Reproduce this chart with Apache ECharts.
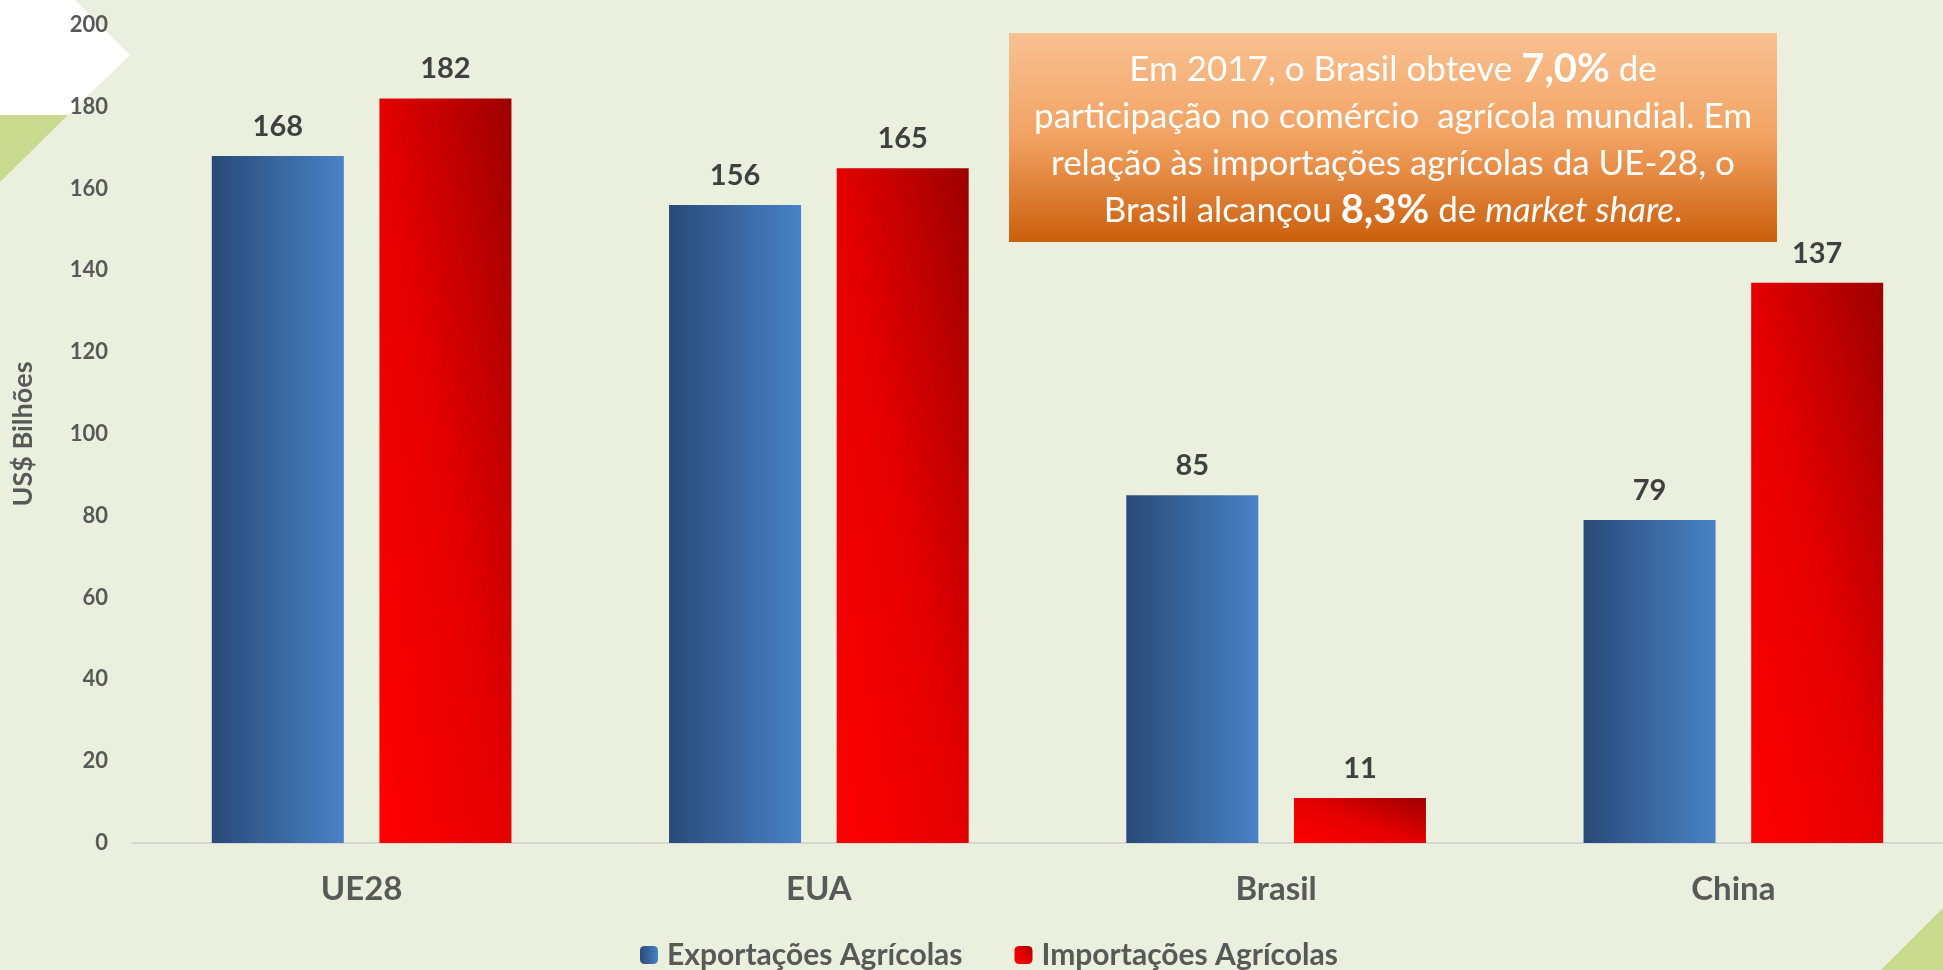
<!DOCTYPE html>
<html lang="pt">

<head>
    <meta charset="UTF-8">
    <title>Comércio agrícola 2017</title>
    <style>
        html, body { margin: 0; padding: 0; background: #EBEFDE; overflow: hidden; }
        /* the plot runs past the right edge of the picture, as in the original slide */
        #main { width: 1962px; height: 970px; }
    </style>
</head>

<body>
    <div id="main"></div>
    <script src="https://cdn.jsdelivr.net/npm/echarts@6/dist/echarts.min.js"></script>
    <script>
    var categories = ['UE28', 'EUA', 'Brasil', 'China'];
    var exportacoes = [168, 156, 85, 79];
    var importacoes = [182, 165, 11, 137];
    var seriesNames = ['Exportações Agrícolas', 'Importações Agrícolas'];

    var BAR_W = 132;
    var PX_PER_UNIT = 818 / 200;

    // diagonal gradient stretched to the bar box (bottom-left light -> top-right dark)
    function redFill(v) {
        var w = BAR_W, h = Math.max(v * PX_PER_UNIT, 1);
        var L2 = w * w + h * h;
        return new echarts.graphic.LinearGradient(0, 1, 2 * h * h / L2, 1 - 2 * w * w / L2, [
            { offset: 0, color: '#FF0000' },
            { offset: 0.5, color: '#E40000' },
            { offset: 1, color: '#9C0000' }
        ]);
    }

    var blueFill = new echarts.graphic.LinearGradient(0, 0, 1, 0, [
        { offset: 0, color: '#294A78' },
        { offset: 1, color: '#4882C6' }
    ]);

    var myChart = echarts.init(document.getElementById('main'));

    var labelStyle = {
        show: true,
        position: 'top',
        distance: 15,
        fontSize: 29,
        fontWeight: 'bold',
        color: '#404040'
    };

    var option = {
        backgroundColor: '#EBEFDE',
        textStyle: { fontFamily: 'Lato' },
        grid: {
            left: 133,
            right: 0,
            top: 25,
            bottom: 127
        },
        legend: {
            data: seriesNames,
            left: 640,
            top: 940,
            padding: 0,
            itemWidth: 18,
            itemHeight: 18,
            itemGap: 52,
            textStyle: {
                fontSize: 30,
                fontWeight: 'bold',
                color: '#595959',
                padding: [0, 0, 0, 4]
            }
        },
        xAxis: {
            type: 'category',
            data: categories,
            axisLine: { lineStyle: { color: '#D6D6D6', width: 2 } },
            axisTick: { show: false },
            axisLabel: {
                margin: 30,
                fontSize: 33,
                fontWeight: 'bold',
                color: '#595959'
            }
        },
        yAxis: {
            type: 'value',
            min: 0,
            max: 200,
            interval: 20,
            name: 'US$ Bilhões',
            nameLocation: 'middle',
            nameRotate: 90,
            nameGap: 96,
            nameTextStyle: {
                fontSize: 27,
                fontWeight: 'bold',
                color: '#595959'
            },
            axisLine: { show: false },
            axisTick: { show: false },
            splitLine: { show: false },
            axisLabel: {
                margin: 25,
                fontSize: 22,
                fontWeight: 'bold',
                color: '#595959'
            }
        },
        graphic: [
            {
                type: 'polygon',
                z: 0,
                shape: { points: [[0, 0], [75, 0], [130, 55], [68, 115], [0, 115]] },
                style: { fill: '#FFFFFF' }
            },
            {
                type: 'polygon',
                z: 0,
                shape: { points: [[0, 115], [68, 115], [0, 182]] },
                style: { fill: '#C9DA8E' }
            },
            {
                type: 'polygon',
                z: 0,
                shape: { points: [[1943, 908], [1943, 970], [1881, 970]] },
                style: { fill: '#C9DA8E' }
            },
            {
                type: 'rect',
                z: 10,
                shape: { x: 1009, y: 33, width: 768, height: 209 },
                style: {
                    fill: new echarts.graphic.LinearGradient(0, 0, 0, 1, [
                        { offset: 0, color: '#F9C192' },
                        { offset: 0.5, color: '#F2A262' },
                        { offset: 1, color: '#CB5F0C' }
                    ])
                }
            },
            {
                type: 'text',
                z: 11,
                x: 1393,
                y: 140,
                style: {
                    text: '{n|Em 2017, o Brasil obteve }{b|7,0%}{n| de}\n' +
                        '{n|participação no comércio  agrícola mundial. Em}\n' +
                        '{n|relação às importações agrícolas da UE-28, o}\n' +
                        '{n|Brasil alcançou }{b|8,3%}{n| de }{i|market share}{n|.}',
                    align: 'center',
                    verticalAlign: 'middle',
                    fill: '#FFFFFF',
                    rich: {
                        n: { fontFamily: 'Lato', fontSize: 35, lineHeight: 47, color: '#FFFFFF', align: 'center' },
                        b: { fontFamily: 'Lato', fontSize: 40, fontWeight: 'bold', lineHeight: 47, color: '#FFFFFF', align: 'center' },
                        i: { fontFamily: 'Lato', fontSize: 35, fontStyle: 'italic', lineHeight: 47, color: '#FFFFFF', align: 'center' }
                    }
                }
            }
        ],
        series: [
            {
                name: seriesNames[0],
                type: 'bar',
                barWidth: BAR_W,
                barGap: '27%',
                data: exportacoes,
                itemStyle: { color: blueFill },
                label: labelStyle
            },
            {
                name: seriesNames[1],
                type: 'bar',
                barWidth: BAR_W,
                barGap: '27%',
                data: importacoes.map(function(v) {
                    return { value: v, itemStyle: { color: redFill(v) } };
                }),
                itemStyle: {
                    color: new echarts.graphic.LinearGradient(0, 1, 1, 0, [
                        { offset: 0, color: '#FF0000' },
                        { offset: 0.5, color: '#E40000' },
                        { offset: 1, color: '#9C0000' }
                    ])
                },
                label: labelStyle
            }
        ]
    };

    myChart.setOption(option);
    </script>
</body>

</html>
